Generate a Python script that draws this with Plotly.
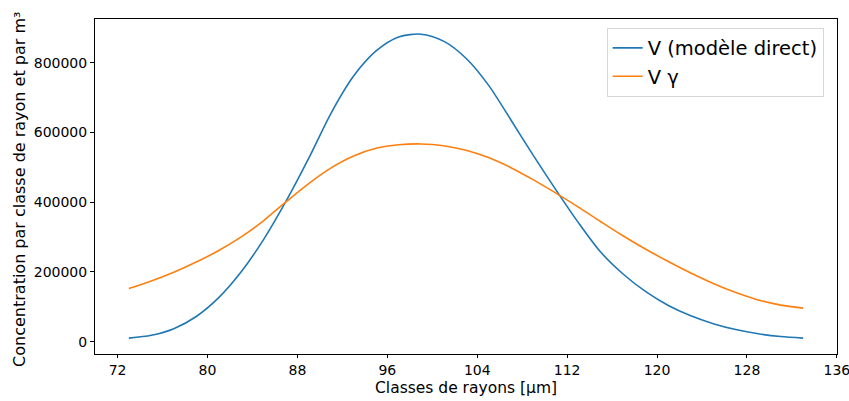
import plotly.graph_objects as go

# x: classes de rayons [µm]
rayons = [73, 75, 77, 79, 81, 83, 85, 87, 89, 91, 93, 95, 97, 99, 101, 103, 105,
          107, 109, 111, 113, 115, 117, 119, 121, 123, 125, 127, 129, 131, 133]

v_direct = [10500, 18500, 37500, 72500, 126500, 200500, 293500, 403500, 525500,
            655500, 761500, 833500, 873500, 881500, 861500, 812500, 735500,
            635500, 533500, 435500, 341500, 256500, 193500, 143500, 104000,
            74500, 52000, 35000, 23000, 15000, 10500]

v_gamma = [152500, 174500, 199500, 228500, 261500, 300500, 347500, 401500, 453500,
           498500, 532500, 554500, 564500, 567000, 562000, 549000, 528000,
           499000, 464000, 426000, 386000, 344000, 303000, 265000, 230000,
           197000, 167000, 141000, 120000, 105000, 96500]

x_ticks = [72, 80, 88, 96, 104, 112, 120, 128, 136]
y_ticks = [0, 200000, 400000, 600000, 800000]

series_names = ["V (modèle direct)", "V γ"]
colors = ["#1f77b4", "#ff7f0e"]

fig = go.Figure()
for name, vals, col in zip(series_names, [v_direct, v_gamma], colors):
    fig.add_trace(go.Scatter(x=rayons, y=vals, mode="lines", name=name,
                             line=dict(color=col, width=1.6, shape="spline", smoothing=0.8)))

font_family = "DejaVu Sans"
fig.update_layout(
    width=849, height=401,
    margin=dict(l=95, r=12, t=19, b=47, autoexpand=False),
    paper_bgcolor="white", plot_bgcolor="white",
    font=dict(family=font_family, color="black", size=14),
    legend=dict(x=0.982, y=0.974, xanchor="right", yanchor="top",
                font=dict(size=19.5, family=font_family),
                bordercolor="#d6d6d6", borderwidth=1, bgcolor="rgba(255,255,255,0.8)"),
    showlegend=True,
    annotations=[
        dict(text="Classes de rayons [µm]", xref="paper", yref="paper",
             x=0.5, y=-0.1, xanchor="center", yanchor="middle", showarrow=False,
             font=dict(size=15.5, family=font_family, color="black")),
        dict(text="Concentration par classe de rayon et par m³", xref="paper", yref="paper",
             x=-0.101, y=0.49, xanchor="center", yanchor="middle", showarrow=False,
             textangle=-90, font=dict(size=16, family=font_family, color="black")),
    ],
)
fig.update_xaxes(range=[69.99, 136.01], tickvals=x_ticks, ticktext=[str(t) for t in x_ticks],
                 automargin=False, ticklabeloverflow="allow",
                 showgrid=False, zeroline=False, showline=True, linecolor="black",
                 linewidth=1, mirror=True, ticks="outside", ticklen=3, tickcolor="black",
                 tickfont=dict(size=14))
fig.update_yaxes(range=[-35000, 925000], tickvals=y_ticks, ticktext=[str(t) for t in y_ticks],
                 automargin=False, ticklabeloverflow="allow",
                 showgrid=False, zeroline=False, showline=True, linecolor="black",
                 linewidth=1, mirror=True, ticks="outside", ticklen=4, tickcolor="black",
                 tickfont=dict(size=14))

fig.write_html("out.html", config={"displayModeBar": False},
               post_script="document.body.style.margin='0px';document.body.style.overflow='hidden';")
